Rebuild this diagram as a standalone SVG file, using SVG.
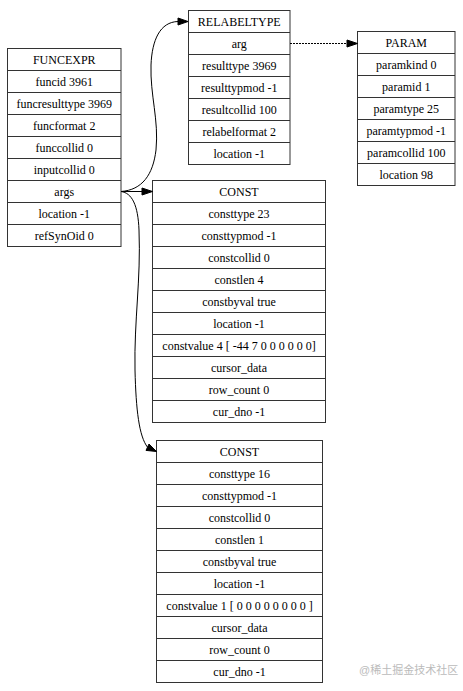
<svg xmlns="http://www.w3.org/2000/svg" width="463" height="691" viewBox="0 0 463 691">
<style>
.box{fill:#fff;stroke:#333;stroke-width:1}
.sep{fill:none;stroke:#333;stroke-width:1}
text{font-family:"Liberation Serif","Times New Roman",serif;font-size:12px;fill:#000;text-anchor:middle}
.edge{fill:none;stroke:#000;stroke-width:1}
.head{fill:#000;stroke:#000;stroke-width:1}
.wm{font-family:"Liberation Sans","Noto Sans CJK SC",sans-serif;font-size:11px;fill:#bbb;text-anchor:start}
</style>
<rect width="463" height="691" fill="#fff"/>
<g id="funcexpr">
<rect class="box" x="7.5" y="48.5" width="113.5" height="198"/>
<path class="sep" d="M7.5,70.5H121M7.5,92.5H121M7.5,114.5H121M7.5,136.5H121M7.5,158.5H121M7.5,180.5H121M7.5,202.5H121M7.5,224.5H121"/>
<text x="64.25" y="63.5">FUNCEXPR</text>
<text x="64.25" y="85.5">funcid 3961</text>
<text x="64.25" y="107.5">funcresulttype 3969</text>
<text x="64.25" y="129.5">funcformat 2</text>
<text x="64.25" y="151.5">funccollid 0</text>
<text x="64.25" y="173.5">inputcollid 0</text>
<text x="64.25" y="195.5">args</text>
<text x="64.25" y="217.5">location -1</text>
<text x="64.25" y="239.5">refSynOid 0</text>
</g>
<g id="relabeltype">
<rect class="box" x="188.5" y="10.5" width="101.5" height="154"/>
<path class="sep" d="M188.5,32.5H290M188.5,54.5H290M188.5,76.5H290M188.5,98.5H290M188.5,120.5H290M188.5,142.5H290"/>
<text x="239.25" y="25.5">RELABELTYPE</text>
<text x="239.25" y="47.5">arg</text>
<text x="239.25" y="69.5">resulttype 3969</text>
<text x="239.25" y="91.5">resulttypmod -1</text>
<text x="239.25" y="113.5">resultcollid 100</text>
<text x="239.25" y="135.5">relabelformat 2</text>
<text x="239.25" y="157.5">location -1</text>
</g>
<g id="param">
<rect class="box" x="357.5" y="31.5" width="97.5" height="154"/>
<path class="sep" d="M357.5,53.5H455M357.5,75.5H455M357.5,97.5H455M357.5,119.5H455M357.5,141.5H455M357.5,163.5H455"/>
<text x="406.25" y="46.5">PARAM</text>
<text x="406.25" y="68.5">paramkind 0</text>
<text x="406.25" y="90.5">paramid 1</text>
<text x="406.25" y="112.5">paramtype 25</text>
<text x="406.25" y="134.5">paramtypmod -1</text>
<text x="406.25" y="156.5">paramcollid 100</text>
<text x="406.25" y="178.5">location 98</text>
</g>
<g id="const1">
<rect class="box" x="152.5" y="180.5" width="173" height="242"/>
<path class="sep" d="M152.5,202.5H325.5M152.5,224.5H325.5M152.5,246.5H325.5M152.5,268.5H325.5M152.5,290.5H325.5M152.5,312.5H325.5M152.5,334.5H325.5M152.5,356.5H325.5M152.5,378.5H325.5M152.5,400.5H325.5"/>
<text x="239" y="195.5">CONST</text>
<text x="239" y="217.5">consttype 23</text>
<text x="239" y="239.5">consttypmod -1</text>
<text x="239" y="261.5">constcollid 0</text>
<text x="239" y="283.5">constlen 4</text>
<text x="239" y="305.5">constbyval true</text>
<text x="239" y="327.5">location -1</text>
<text x="239" y="349.5">constvalue 4 [ -44 7 0 0 0 0 0 0]</text>
<text x="239" y="371.5">cursor_data</text>
<text x="239" y="393.5">row_count 0</text>
<text x="239" y="415.5">cur_dno -1</text>
</g>
<g id="const2">
<rect class="box" x="156.5" y="440.5" width="166" height="242"/>
<path class="sep" d="M156.5,462.5H322.5M156.5,484.5H322.5M156.5,506.5H322.5M156.5,528.5H322.5M156.5,550.5H322.5M156.5,572.5H322.5M156.5,594.5H322.5M156.5,616.5H322.5M156.5,638.5H322.5M156.5,660.5H322.5"/>
<text x="239.5" y="455.5">CONST</text>
<text x="239.5" y="477.5">consttype 16</text>
<text x="239.5" y="499.5">consttypmod -1</text>
<text x="239.5" y="521.5">constcollid 0</text>
<text x="239.5" y="543.5">constlen 1</text>
<text x="239.5" y="565.5">constbyval true</text>
<text x="239.5" y="587.5">location -1</text>
<text x="239.5" y="609.5">constvalue 1 [ 0 0 0 0 0 0 0 0 ]</text>
<text x="239.5" y="631.5">cursor_data</text>
<text x="239.5" y="653.5">row_count 0</text>
<text x="239.5" y="675.5">cur_dno -1</text>
</g>
<g id="connectors">
<path class="edge" d="M121,191.5 C142,190 153,175 156,150 C159,120 150,95 151,65 C152,40 160,22 178,21.5"/>
<polygon class="head" points="178,18 188,21.5 178,25"/>
<path class="edge" d="M121,191.5 H142"/>
<polygon class="head" points="142,188 152.5,191.5 142,195"/>
<path class="edge" d="M121,191.5 C132,193 138,205 139,230 C141,280 134,320 135,370 C136,410 139,436 147.5,447.2"/>
<polygon class="head" points="146,450.4 156.5,451.5 149,444"/>
<path class="edge" d="M290,43.5 H347" stroke-dasharray="2 1" stroke="#333"/>
<polygon class="head" points="347,40 357.5,43.5 347,47"/>
</g>
<text class="wm" x="359" y="674">@稀土掘金技术社区</text>
</svg>
